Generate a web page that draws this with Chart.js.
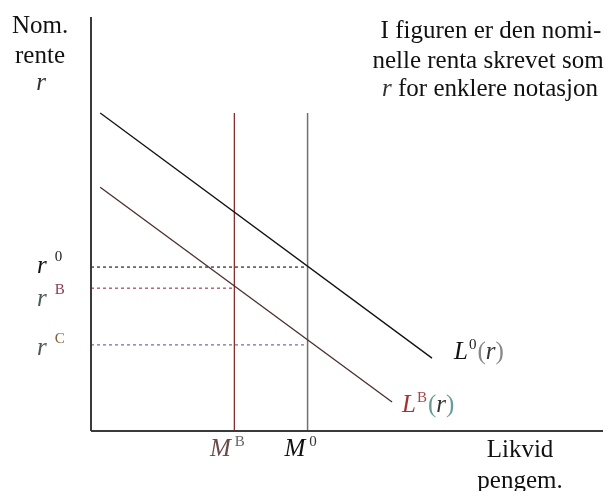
<!DOCTYPE html>
<html>
<head>
<meta charset="utf-8">
<script src="https://cdn.jsdelivr.net/npm/chart.js@4"></script>
<style>
  html, body { margin: 0; padding: 0; background: #fff; }
  #wrap { width: 614px; height: 491px; }
</style>
</head>
<body>
<div id="wrap"><canvas id="moneyChart" width="614" height="491"></canvas></div>
<script>
// axis extents (data units)
const xMax = 10;
const yMax = 10;

// money supply levels: M^B, M^0
const mLabels = ['B', '0'];
const mLevels = [2.8, 4.23];
const mTop = 7.68;

// interest levels: r^0, r^B, r^C  (with the M where the dashed line stops)
const rLabels = ['0', 'B', 'C'];
const rLevels = [3.96, 3.45, 2.08];
const rEnds = [4.23, 2.8, 4.23];

// liquidity demand curves
const l0X = [0.18, 6.66];
const l0Y = [7.68, 1.76];
const lbX = [0.18, 5.88];
const lbY = [5.89, 0.7];

const serif = '"Liberation Serif", "DejaVu Serif", serif';

function seg(xs, ys) {
  return xs.map((x, i) => ({ x: x, y: ys[i] }));
}

const datasets = [
  { data: seg([0, 0], [0, yMax]), borderColor: '#3a3a3a', borderWidth: 2 },
  { data: seg([0, xMax], [0, 0]), borderColor: '#3a3a3a', borderWidth: 2 },
  { data: seg(l0X, l0Y), borderColor: '#111', borderWidth: 1.3 },
  { data: seg(lbX, lbY), borderColor: '#4a2e2e', borderWidth: 1.3 },
  { data: seg([mLevels[0], mLevels[0]], [0, mTop]), borderColor: '#8b2f2f', borderWidth: 1.3 },
  { data: seg([mLevels[1], mLevels[1]], [0, mTop]), borderColor: '#707070', borderWidth: 1.5 },
  { data: seg([0, rEnds[0]], [rLevels[0], rLevels[0]]), borderColor: '#222', borderWidth: 1.2, borderDash: [3, 3] },
  { data: seg([0, rEnds[1]], [rLevels[1], rLevels[1]]), borderColor: '#a0405a', borderWidth: 1.2, borderDash: [3, 3] },
  { data: seg([0, rEnds[2]], [rLevels[2], rLevels[2]]), borderColor: '#6a6aaa', borderWidth: 1.2, borderDash: [3, 3] },
];

// draw a run of text pieces starting at x (left or centre), baseline y
function rich(ctx, x, y, parts, align) {
  const fontOf = p => (p.italic ? 'italic ' : '') + (p.size || 25) + 'px ' + serif;
  let widths = parts.map(p => {
    ctx.font = fontOf(p);
    return ctx.measureText(p.t).width + (p.gap || 0);
  });
  let total = widths.reduce((a, b) => a + b, 0);
  let cx = align === 'center' ? x - total / 2 : x;
  parts.forEach((p, i) => {
    ctx.font = fontOf(p);
    ctx.fillStyle = p.color || '#111';
    ctx.textAlign = 'left';
    ctx.textBaseline = 'alphabetic';
    ctx.fillText(p.t, cx + (p.gap || 0), y - (p.rise || 0));
    cx += widths[i];
  });
}

const labelPlugin = {
  id: 'labels',
  afterDatasetsDraw(chart) {
    const ctx = chart.ctx;
    const xs = chart.scales.x;
    const ys = chart.scales.y;
    ctx.save();

    // y axis title
    rich(ctx, 40, 33, [{ t: 'Nom.' }], 'center');
    rich(ctx, 40, 63, [{ t: 'rente' }], 'center');
    rich(ctx, 41, 90, [{ t: 'r', italic: true, color: '#333' }], 'center');

    // note
    rich(ctx, 491, 38, [{ t: 'I figuren er den nomi-' }], 'center');
    rich(ctx, 488, 68, [{ t: 'nelle renta skrevet som' }], 'center');
    rich(ctx, 490, 96, [{ t: 'r', italic: true, color: '#333' }, { t: ' for enklere notasjon' }], 'center');

    // r labels
    const rColors = ['#222', '#8a3a4a', '#8a5a3a'];
    const rOff = [6, 18, 10];
    rLevels.forEach((v, i) => {
      const py = ys.getPixelForValue(v) + rOff[i];
      rich(ctx, 37, py, [
        { t: 'r', italic: true, color: i ? '#4a5a5a' : '#111' },
        { t: rLabels[i], size: 15, rise: 12, gap: 8, color: rColors[i] }
      ]);
    });

    // M labels
    const mColors = [['#6a4a4a', '#666'], ['#111', '#333']];
    mLevels.forEach((v, i) => {
      const px = xs.getPixelForValue(v);
      rich(ctx, px - 7, 456, [
        { t: 'M', italic: true, color: mColors[i][0] },
        { t: mLabels[i], size: 15, rise: 10, gap: 4, color: mColors[i][1] }
      ], 'center');
    });

    // curve labels
    rich(ctx, 454, 359, [
      { t: 'L', italic: true, color: '#111' },
      { t: '0', size: 15, rise: 10, gap: 1, color: '#222' },
      { t: '(', color: '#888', gap: 1 },
      { t: 'r', italic: true, color: '#333' },
      { t: ')', color: '#888' }
    ]);
    rich(ctx, 402, 412, [
      { t: 'L', italic: true, color: '#a83030' },
      { t: 'B', size: 15, rise: 10, gap: 1, color: '#a84848' },
      { t: '(', color: '#6a9a9a', gap: 1 },
      { t: 'r', italic: true, color: '#333' },
      { t: ')', color: '#6a9a9a' }
    ]);

    // x axis title
    rich(ctx, 520, 457, [{ t: 'Likvid' }], 'center');
    rich(ctx, 520, 488, [{ t: 'pengem.' }], 'center');

    ctx.restore();
  }
};

new Chart(document.getElementById('moneyChart'), {
  type: 'scatter',
  data: { datasets: datasets },
  options: {
    responsive: false,
    animation: false,
    showLine: true,
    clip: false,
    layout: { padding: { left: 91, right: 11, top: 17, bottom: 60 } },
    elements: { point: { radius: 0, hoverRadius: 0 }, line: { tension: 0 } },
    plugins: { legend: { display: false }, tooltip: { enabled: false } },
    scales: {
      x: { type: 'linear', display: false, min: 0, max: xMax },
      y: { type: 'linear', display: false, min: 0, max: yMax }
    }
  },
  plugins: [labelPlugin]
});
</script>
</body>
</html>
